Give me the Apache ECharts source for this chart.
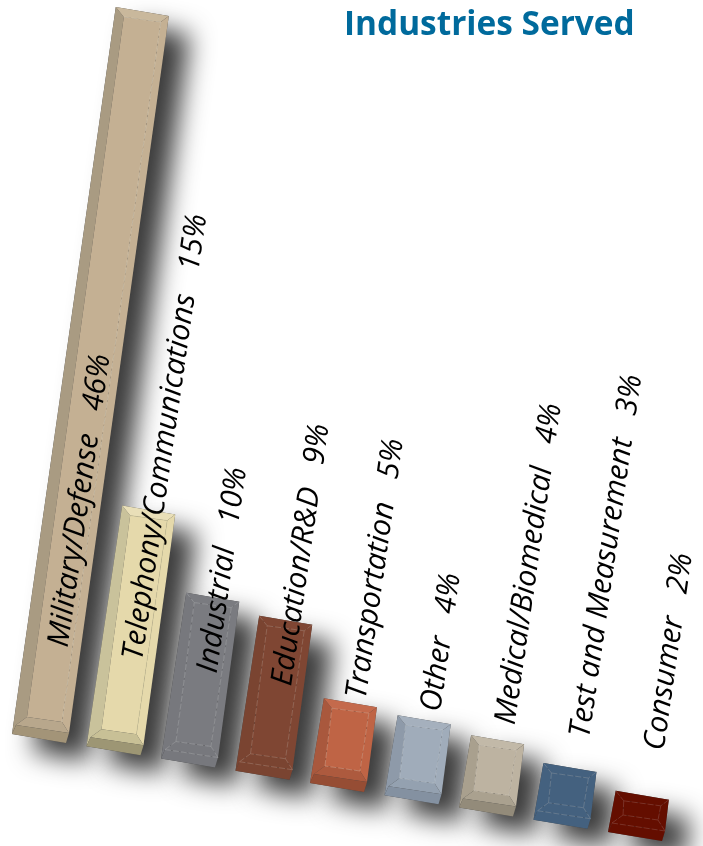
<!DOCTYPE html>
<html><head><meta charset="utf-8">
<style>html,body{margin:0;padding:0;background:#fff}#c{width:703px;height:846px}</style>
<script src="https://cdn.jsdelivr.net/npm/echarts@6/dist/echarts.min.js"></script>
</head><body><div id="c"></div>
<script>
const categories = ['Military/Defense','Telephony/Communications','Industrial','Education/R&D','Transportation','Other','Medical/Biomedical','Test and Measurement','Consumer'];
const shares = [46,15,10,9,5,4,4,3,2];
const barHeights = [46,14.8,10.0,9.3,4.8,4.5,4.0,3.0,2.0];
const titleText = 'Industries Served';
// face, left bevel, bottom bevel, lip, top bevel, dash
const palette = [
 ['#c4b093','#a99b82','#b8a78c','#a39478','#c9b89c','#d9ccb6'],
 ['#e5d9ab','#c9c29b','#c8c096','#9d9674','#e9dfb8','#c9c29b'],
 ['#7a7b80','#77787d','#77787d','#77787d','#7a7b80','#a5a6aa'],
 ['#7f4633','#7a4431','#7a4431','#7a4431','#7f4633','#a97a68'],
 ['#bf6445','#a9583d','#ad5a3e','#964d34','#c46a4c','#dc9a80'],
 ['#a0acba','#8e9aa9','#94a1b0','#8491a1','#a5b0bd','#bcc6d0'],
 ['#bdb3a1','#a9a08e','#aaa18f','#938b7a','#c2b9a8','#d2cabb'],
 ['#44617f','#44617f','#44617f','#44617f','#44617f','#7a8ea3'],
 ['#640e00','#640e00','#640e00','#640e00','#640e00','#8f4236']
];
const fullFrame = [2,3,7,8];
const SHEAR_Y = 12.25/74.5, LEAN = 0.14, GRID_LEFT = 12;
const add = (p,dx,dy)=>[p[0]+dx,p[1]+dy];
const frame = (api,i,val)=>{
  const top = api.coord([i,val]), base = api.coord([i,-0.64]);
  const left = top[0]-api.size([1,0])[0]/2;
  const dy = (left-GRID_LEFT)*SHEAR_Y;
  const h = base[1]-top[1];
  return {B:[left,base[1]+dy], TL:[left+2+h*LEAN,top[1]+dy]};
};
const poly=(pts,fill,extra)=>({type:'polygon',shape:{points:pts},style:Object.assign({fill:fill},extra||{}),silent:true});
function renderBar(params,api){
  const i=api.value(0), f=frame(api,i,api.value(1)), B=f.B, TL=f.TL, c=palette[i];
  const C=add(B,54,9), D=add(C,3,-10), TR=add(TL,53,9), LL=add(B,4,-9);
  const IBL=add(B,15,-17), IBR=add(C,-4,-21), ITL=add(TL,8,10), ITR=add(TL,45,15);
  const dash={stroke:c[5],lineWidth:0.6,lineDash:[6,2],fill:null};
  const line=(a,b)=>({type:'polyline',shape:{points:[a,b]},style:dash,silent:true});
  const kids=[
    poly([B,C,D,TR,TL],'#444',{shadowBlur:26,shadowColor:'rgba(60,60,60,1)',shadowOffsetX:21,shadowOffsetY:18}),
    poly([TL,ITL,IBL,LL,B],c[1]),
    poly([TL,TR,ITR,ITL],c[4]),
    poly([ITL,ITR,IBR,IBL],c[0]),
    poly([TR,D,IBR,ITR],c[0]),
    poly([LL,D,IBR,IBL],c[2]),
    poly([B,C,D,LL],c[3]),
    line(ITL,ITR),line(ITR,IBR)
  ];
  if(i>=2) kids.push(line(IBL,ITL),line(IBR,IBL));
  if(fullFrame.includes(i)) kids.push(line(TL,ITL),line(TR,ITR),line(D,IBR),line(LL,IBL),line(LL,D));
  return {type:'group',children:kids};
}
function renderLabel(params,api){
  const i=api.value(0), f=frame(api,i,0);
  return {type:'text',x:f.B[0]+62,y:f.B[1]-85+i*0.65,rotation:81.8*Math.PI/180,silent:true,
    style:{text:categories[i]+'   '+shares[i]+'%',font:'italic 30px "Open Sans"',fill:'#000',align:'left',verticalAlign:'bottom'}};
}
const rows=categories.map((_,i)=>[i,barHeights[i]]);
const chart=echarts.init(document.getElementById('c'),null,{renderer:'canvas'});
chart.setOption({
  animation:false,backgroundColor:'#fff',
  title:{text:titleText,left:344,top:9,padding:0,textStyle:{fontFamily:'"Open Sans"',fontWeight:700,fontSize:33.4,color:'#006a9c'}},
  grid:{left:GRID_LEFT,top:7,width:670.5,height:727},
  xAxis:{type:'category',data:categories,show:false},
  yAxis:{type:'value',min:-0.64,max:46,show:false},
  series:[
    {type:'custom',data:rows,clip:false,z:2,renderItem:renderBar},
    {type:'custom',data:rows,clip:false,z:5,renderItem:renderLabel}
  ]
});
</script></body></html>
